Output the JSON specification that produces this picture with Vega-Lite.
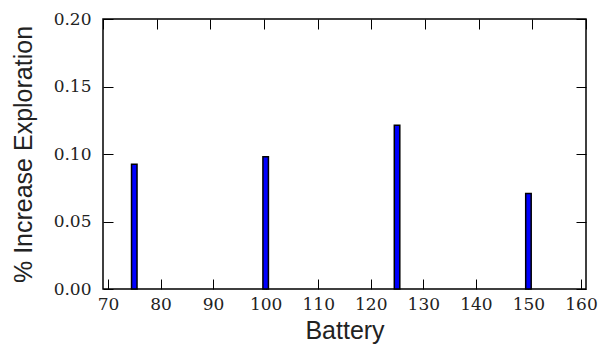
{
  "$schema": "https://vega.github.io/schema/vega-lite/v6.json",
  "width": 483,
  "height": 270,
  "autosize": {"type": "none"},
  "padding": {"left": 103, "top": 19, "right": 26, "bottom": 69},
  "background": "white",
  "config": {
    "view": {"stroke": "black", "strokeWidth": 1.5},
    "axis": {
      "grid": false,
      "domain": false,
      "tickColor": "black",
      "tickWidth": 1,
      "tickSize": -10,
      "labelColor": "#222222",
      "labelFont": "DejaVu Serif",
      "labelFontSize": 17,
      "titleFont": "Liberation Sans",
      "titleFontSize": 25,
      "titleFontWeight": "normal",
      "titleColor": "#222222"
    }
  },
  "data": {
    "values": [
      {"battery": 75, "increase": 0.0924},
      {"battery": 100, "increase": 0.098},
      {"battery": 125, "increase": 0.1213},
      {"battery": 150, "increase": 0.0707}
    ]
  },
  "layer": [
    {
      "mark": {"type": "bar", "fill": "#0000ff", "stroke": "black", "strokeWidth": 1.5, "size": 5.5},
      "encoding": {
        "x": {
          "field": "battery", "type": "quantitative",
          "scale": {"domain": [70, 160], "nice": false, "zero": false},
          "axis": {"orient": "bottom", "values": [70, 80, 90, 100, 110, 120, 130, 140, 150, 160], "title": "Battery", "labelPadding": 17, "titlePadding": 6, "labelFlush": false}
        },
        "y": {
          "field": "increase", "type": "quantitative",
          "scale": {"domain": [0, 0.2], "nice": false},
          "axis": {"orient": "left", "values": [0, 0.05, 0.1, 0.15, 0.2], "format": ".2f", "title": "% Increase Exploration", "labelPadding": 22, "titlePadding": 17}
        }
      }
    },
    {
      "mark": {"type": "point", "opacity": 0},
      "encoding": {
        "x": {
          "field": "battery", "type": "quantitative",
          "scale": {"domain": [70, 160], "nice": false, "zero": false},
          "axis": {"orient": "top", "values": [70, 80, 90, 100, 110, 120, 130, 140, 150, 160], "labels": false, "title": null}
        },
        "y": {
          "field": "increase", "type": "quantitative",
          "scale": {"domain": [0, 0.2], "nice": false},
          "axis": {"orient": "right", "values": [0, 0.05, 0.1, 0.15, 0.2], "labels": false, "title": null}
        }
      }
    }
  ],
  "resolve": {"scale": {"x": "independent", "y": "independent"}}
}
